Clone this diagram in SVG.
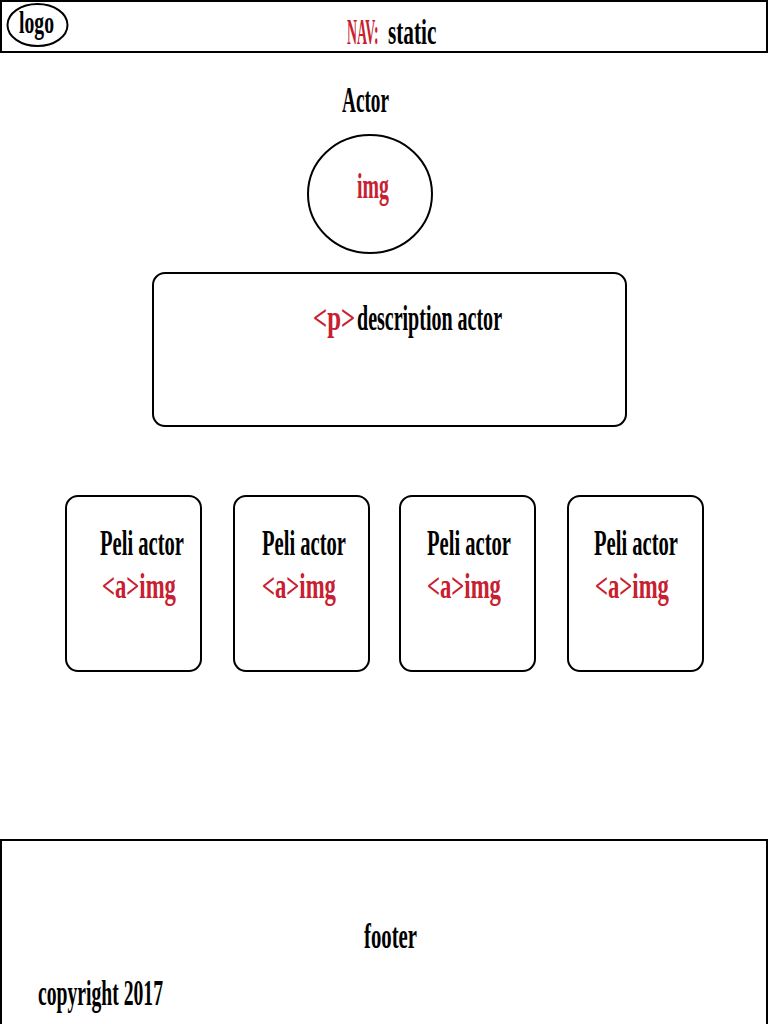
<svg xmlns="http://www.w3.org/2000/svg" width="768" height="1024" viewBox="0 0 768 1024">
<style>
.box{fill:#fff;stroke:#000;stroke-width:2}
.t{font-family:"Liberation Serif",serif;font-weight:bold;font-size:36px;fill:#000}
.r{fill:#c8202f}
</style>
<rect width="768" height="1024" fill="#fff"/>
<g id="nav">
<rect class="box" x="1" y="1" width="766" height="51"/>
<text class="t r" transform="translate(347 44) scale(0.385 1)" x="0" y="0">NAV:</text>
<text class="t" transform="translate(388 44) scale(0.59 1)" x="0" y="0">static</text>
</g>
<g id="logo">
<ellipse class="box" cx="37.5" cy="25" rx="30" ry="21"/>
<text class="t" x="19" y="33" textLength="35" lengthAdjust="spacingAndGlyphs" style="font-size:31px">logo</text>
</g>
<g id="actor-title">
<text class="t" x="342" y="112" textLength="47" lengthAdjust="spacingAndGlyphs">Actor</text>
</g>
<g id="actor-img">
<ellipse class="box" cx="370" cy="194" rx="62" ry="59"/>
<text class="t r" x="357" y="198" textLength="32" lengthAdjust="spacingAndGlyphs">img</text>
</g>
<g id="description">
<rect class="box" x="153" y="273" width="473" height="153" rx="12"/>
<text class="t r" transform="translate(313 330) scale(0.69 1)" x="0" y="0">&lt;p&gt;</text>
<text class="t" transform="translate(357 330) scale(0.556 1)" x="0" y="0">description actor</text>
</g>
<g id="card1">
<rect class="box" x="66" y="496" width="135" height="175" rx="12"/>
<text class="t" x="100" y="555" textLength="84" lengthAdjust="spacingAndGlyphs">Peli actor</text>
<text class="t r" x="102" y="598" textLength="74" lengthAdjust="spacingAndGlyphs">&lt;a&gt;img</text>
</g>
<g id="card2">
<rect class="box" x="234" y="496" width="135" height="175" rx="12"/>
<text class="t" x="262" y="555" textLength="84" lengthAdjust="spacingAndGlyphs">Peli actor</text>
<text class="t r" x="262" y="598" textLength="74" lengthAdjust="spacingAndGlyphs">&lt;a&gt;img</text>
</g>
<g id="card3">
<rect class="box" x="400" y="496" width="135" height="175" rx="12"/>
<text class="t" x="427" y="555" textLength="84" lengthAdjust="spacingAndGlyphs">Peli actor</text>
<text class="t r" x="427" y="598" textLength="74" lengthAdjust="spacingAndGlyphs">&lt;a&gt;img</text>
</g>
<g id="card4">
<rect class="box" x="568" y="496" width="135" height="175" rx="12"/>
<text class="t" x="594" y="555" textLength="84" lengthAdjust="spacingAndGlyphs">Peli actor</text>
<text class="t r" x="595" y="598" textLength="74" lengthAdjust="spacingAndGlyphs">&lt;a&gt;img</text>
</g>
<g id="footer">
<rect class="box" x="1" y="840" width="766" height="200"/>
<text class="t" x="364" y="948" textLength="53" lengthAdjust="spacingAndGlyphs">footer</text>
<text class="t" x="38" y="1005" textLength="125" lengthAdjust="spacingAndGlyphs">copyright 2017</text>
</g>
<g id="connectors"/>
</svg>
